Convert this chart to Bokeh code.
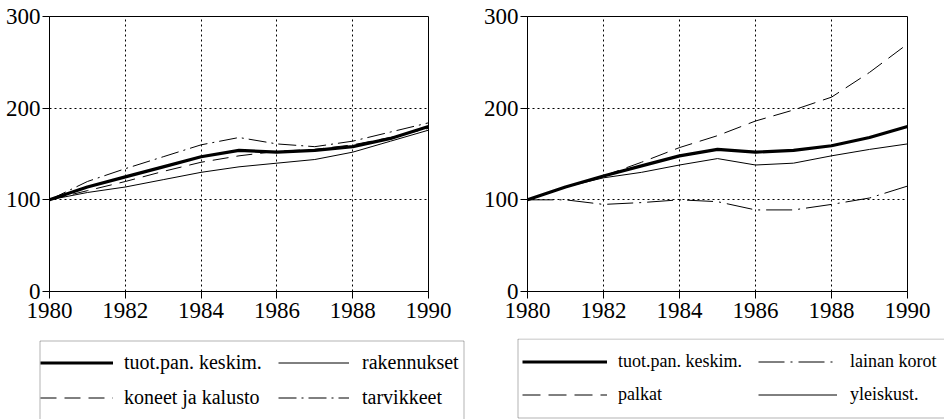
from bokeh.plotting import figure
from bokeh.layouts import row, column
from bokeh.models import Legend, LegendItem, FixedTicker, BoxAnnotation
from bokeh.embed import file_html
from bokeh.resources import INLINE

years = [1980, 1981, 1982, 1983, 1984, 1985, 1986, 1987, 1988, 1989, 1990]

# left panel
tuot_left = [100, 114, 125, 136, 147, 154, 152, 154, 158, 167, 180]
rakennukset = [100, 108, 114, 122, 130, 136, 140, 144, 152, 164, 176]
koneet = [100, 110, 120, 131, 141, 148, 153, 155, 160, 168, 178]
tarvikkeet = [100, 120, 134, 147, 160, 168, 161, 158, 164, 174, 184]

# right panel
tuot_right = [100, 114, 126, 137, 148, 155, 152, 154, 159, 168, 180]
palkat = [100, 114, 126, 141, 157, 170, 186, 198, 212, 239, 270]
lainan_korot = [100, 100, 95, 97, 100, 98, 89, 89, 95, 102, 115]
yleiskust = [100, 114, 124, 130, 138, 145, 138, 140, 148, 155, 161]

x_ticks = [1980, 1982, 1984, 1986, 1988, 1990]
y_ticks = [0, 100, 200, 300]

FONT = "Liberation Serif"
TICK_SIZE = "23px"

STY_THICK = dict(line_color="black", line_width=3.2)
STY_THIN = dict(line_color="black", line_width=1)
STY_DASH_L = dict(line_color="black", line_width=1, line_dash="16 8")
STY_DASHDOT_L = dict(line_color="black", line_width=1, line_dash="18 5 2 5")
STY_DASH_R = dict(line_color="black", line_width=1, line_dash="18 8")
STY_DASHDOT_R = dict(line_color="black", line_width=1, line_dash="26 6 2 6")


def make_fig(left, top, fw, right, bottom):
    p = figure(x_range=(years[0], years[-1]), y_range=(0, 300),
               output_backend="svg", toolbar_location=None,
               frame_width=fw, frame_height=275,
               min_border_left=left, min_border_top=top, min_border_right=right,
               min_border_bottom=bottom)
    p.background_fill_color = "white"
    p.border_fill_color = "white"
    p.outline_line_color = "black"
    p.outline_line_width = 1
    for ax in (p.xaxis[0], p.yaxis[0]):
        ax.axis_line_color = "black"
        ax.major_tick_line_color = "black"
        ax.minor_tick_line_color = None
        ax.major_tick_in = 0
        ax.major_tick_out = 7
        ax.major_label_text_font = FONT
        ax.major_label_text_font_size = TICK_SIZE
        ax.major_label_text_color = "black"
    p.xaxis[0].ticker = FixedTicker(ticks=x_ticks)
    p.yaxis[0].ticker = FixedTicker(ticks=y_ticks)
    p.xaxis[0].major_label_standoff = 4
    p.yaxis[0].major_label_standoff = 2
    for g in (p.xgrid[0], p.ygrid[0]):
        g.grid_line_color = "black"
        g.grid_line_dash = "2 3"
        g.grid_line_width = 1
    p.xgrid[0].ticker = FixedTicker(ticks=x_ticks)
    p.ygrid[0].ticker = FixedTicker(ticks=y_ticks)
    return p


# ---------- left chart ----------
p1 = make_fig(49, 16, 379, 50, 47)
p1.line(years, koneet, **STY_DASH_L)
p1.line(years, tarvikkeet, **STY_DASHDOT_L)
p1.line(years, rakennukset, **STY_THIN)
p1.line(years, tuot_left, **STY_THICK)

# ---------- right chart ----------
p2 = make_fig(49, 14, 380, 37, 49)
p2.line(years, palkat, **STY_DASH_R)
p2.line(years, lainan_korot, **STY_DASHDOT_R)
p2.line(years, yleiskust, **STY_THIN)
p2.line(years, tuot_right, **STY_THICK)

# ---------- legend strip (pixel-unit frame, y upward) ----------
LH = 81
lf = figure(width=944, height=LH, x_range=(0, 944), y_range=(0, LH),
            output_backend="svg", toolbar_location=None,
            x_axis_location=None, y_axis_location=None,
            min_border_left=0, min_border_top=0, min_border_right=0,
            min_border_bottom=0)
lf.grid.visible = False
lf.outline_line_color = None
lf.background_fill_color = "white"
lf.border_fill_color = "white"

# proxy renderers (data lies outside this strip's ranges, only legend glyphs show)
g_tuo = lf.line(years, tuot_left, **STY_THICK)
g_kon = lf.line(years, koneet, **STY_DASH_L)
g_rak = lf.line(years, rakennukset, **STY_THIN)
g_tar = lf.line(years, tarvikkeet, **STY_DASHDOT_L)
g_tuo2 = lf.line(years, tuot_right, **STY_THICK)
g_pal = lf.line(years, palkat, **STY_DASH_R)
g_lai = lf.line(years, lainan_korot, **STY_DASHDOT_R)
g_yle = lf.line(years, yleiskust, **STY_THIN)


def add_col(items, x, y, size, gw, lh, standoff):
    leg = Legend(items=[LegendItem(label=l, renderers=[r]) for l, r in items],
                 location=(x, y), orientation="vertical")
    leg.label_text_font = FONT
    leg.label_text_font_size = size
    leg.label_text_color = "black"
    leg.glyph_width = gw
    leg.glyph_height = lh
    leg.label_height = lh
    leg.label_standoff = standoff
    leg.spacing = 0
    leg.padding = 0
    leg.margin = 0
    leg.border_line_color = None
    leg.background_fill_alpha = 0
    lf.add_layout(leg, "center")


# left legend box and columns
lf.add_layout(BoxAnnotation(left=39.5, right=463.5, bottom=-5, top=78.5,
                            fill_alpha=0, line_color="black", line_width=1))
add_col([("tuot.pan. keskim.", g_tuo), ("koneet ja kalusto", g_kon)], 40, 4, "20px", 73, 35, 11)
add_col([("rakennukset", g_rak), ("tarvikkeet", g_tar)], 278, 4, "20px", 71, 35, 13)

# right legend box and columns
lf.add_layout(BoxAnnotation(left=517.5, right=960, bottom=1.5, top=80.5,
                            fill_alpha=0, line_color="black", line_width=1))
add_col([("tuot.pan. keskim.", g_tuo2), ("palkat", g_pal)], 522, 8, "18px", 85, 33, 11)
add_col([("lainan korot", g_lai), ("yleiskust.", g_yle)], 758, 8, "18px", 79, 33, 13)

layout = column(row(p1, p2), lf)
open("out.html", "w").write(file_html(layout, INLINE))
